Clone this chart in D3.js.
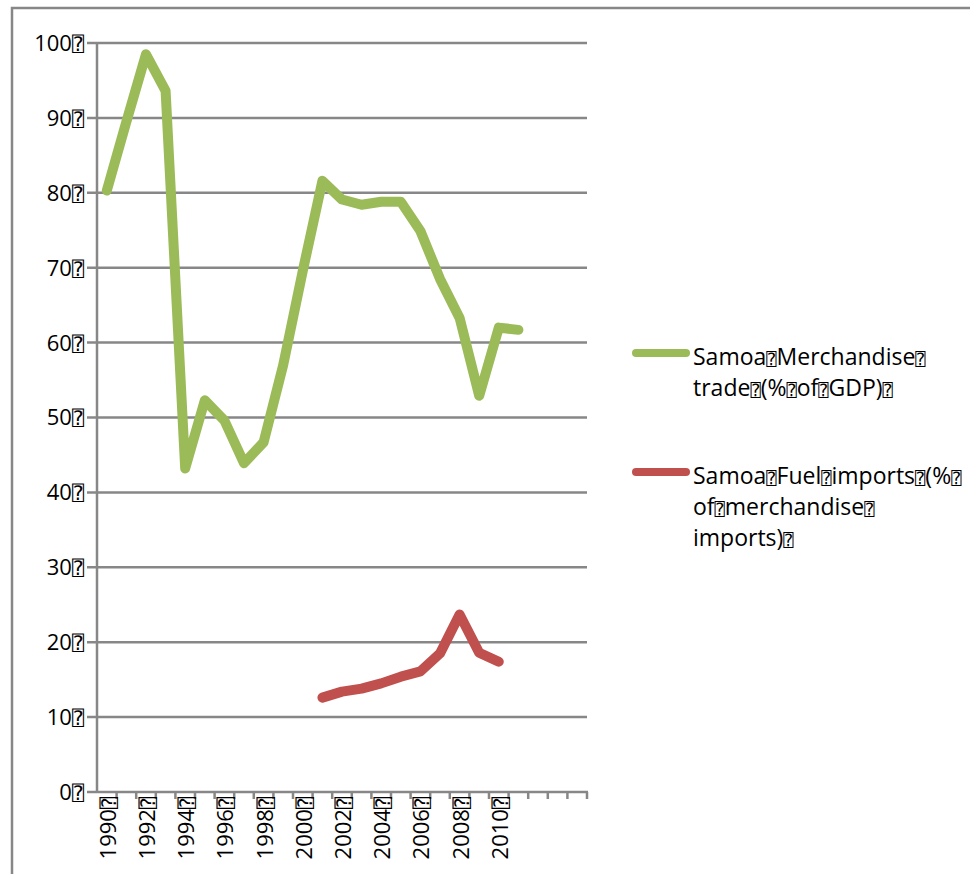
<!DOCTYPE html>
<html>
<head>
<meta charset="utf-8">
<script src="https://cdn.jsdelivr.net/npm/d3@7"></script>
<style>
  body { margin: 0; background: #fff; }
  text { font-family: "Open Sans", "Noto Sans", sans-serif; fill: #000; }
  .box { font-family: "DejaVu Sans", "DejaVu Sans Mono", sans-serif; fill: #000; }
</style>
</head>
<body>
<div id="chart"></div>
<script>
// Categories (years) on the x axis
var years = ["1990", "1991", "1992", "1993", "1994", "1995", "1996", "1997", "1998", "1999",
  "2000", "2001", "2002", "2003", "2004", "2005", "2006", "2007", "2008", "2009",
  "2010", "2011", "2012", "2013", "2014"];

// Years that get a label under the axis
var yearLabels = ["1990", "1992", "1994", "1996", "1998", "2000", "2002", "2004", "2006", "2008", "2010"];

// Samoa Merchandise trade (% of GDP)
var merchandise = [80.3, 89.5, 98.5, 93.6, 43.2, 52.3, 49.6, 43.9, 46.7, 57.0,
  69.6, 81.6, 79.1, 78.4, 78.8, 78.8, 74.9, 68.5, 63.3, 52.9,
  62.0, 61.7, null, null, null];

// Samoa Fuel imports (% of merchandise imports)
var fuel = [null, null, null, null, null, null, null, null, null, null,
  null, 12.6, 13.4, 13.8, 14.5, 15.4, 16.1, 18.5, 23.7, 18.6,
  17.4, null, null, null, null];

var yTicks = [0, 10, 20, 30, 40, 50, 60, 70, 80, 90, 100];

var legendItems = [
  { lines: ["Samoa\u2370Merchandise\u2370", "trade\u2370(%\u2370of\u2370GDP)\u2370"], color: "#9BBB59" },
  { lines: ["Samoa\u2370Fuel\u2370imports\u2370(%\u2370", "of\u2370merchandise\u2370", "imports)\u2370"], color: "#C0504D" }
];

var svgWidth = 970;
var svgHeight = 874;
var gridColor = "#878787";

var svg = d3.select("#chart")
  .append("svg")
  .attr("width", svgWidth)
  .attr("height", svgHeight);

// outer frame (only top and left edges are visible)
svg.append("path")
  .attr("d", "M12,874 L12,8 L970,8")
  .attr("fill", "none")
  .attr("stroke", gridColor)
  .attr("stroke-width", 2.5);

// scales
var xScale = d3.scaleBand()
  .domain(years)
  .range([97, 587]);

var yScale = d3.scaleLinear()
  .domain([0, 100])
  .range([792, 43]);

var xc = function(d) { return xScale(d) + xScale.bandwidth() / 2; };

// horizontal gridlines (these also make the short ticks on the left)
svg.append("g")
  .selectAll("line")
  .data(yTicks.slice(1))
  .enter()
  .append("line")
  .attr("x1", 87)
  .attr("x2", 587)
  .attr("y1", d => yScale(d))
  .attr("y2", d => yScale(d))
  .attr("stroke", gridColor)
  .attr("stroke-width", 2.5);

// y axis line
svg.append("line")
  .attr("x1", 97).attr("x2", 97)
  .attr("y1", yScale(100)).attr("y2", yScale(0))
  .attr("stroke", gridColor)
  .attr("stroke-width", 2.5);

// x axis line with ticks between categories
svg.append("line")
  .attr("x1", 87).attr("x2", 588)
  .attr("y1", yScale(0)).attr("y2", yScale(0))
  .attr("stroke", gridColor)
  .attr("stroke-width", 2.5);

svg.append("g")
  .selectAll("line")
  .data(years)
  .enter()
  .append("line")
  .attr("x1", d => xScale(d) + xScale.bandwidth())
  .attr("x2", d => xScale(d) + xScale.bandwidth())
  .attr("y1", yScale(0))
  .attr("y2", yScale(0) + 7)
  .attr("stroke", gridColor)
  .attr("stroke-width", 2.5);

// y tick labels
var yLab = svg.append("g")
  .selectAll("text")
  .data(yTicks)
  .enter()
  .append("text")
  .attr("x", 84)
  .attr("y", d => yScale(d))
  .attr("dy", "0.36em")
  .attr("text-anchor", "end")
  .style("font-size", "22px");
yLab.append("tspan").text(d => d);
yLab.append("tspan").attr("class", "box").style("font-size", "20px").text("\u2370");

// x tick labels, rotated
var xLab = svg.append("g")
  .selectAll("text")
  .data(yearLabels)
  .enter()
  .append("text")
  .attr("transform", d => `translate(${xc(d) + 1}, 797) rotate(-90)`)
  .attr("dy", "0.36em")
  .attr("text-anchor", "end")
  .style("font-size", "22px");
xLab.append("tspan").text(d => d);
xLab.append("tspan").attr("class", "box").style("font-size", "20px").text("\u2370");

// lines
var drawLine = d3.line()
  .defined(d => d.v !== null)
  .x(d => xc(d.year))
  .y(d => yScale(d.v));

[{ values: merchandise, color: "#9BBB59" }, { values: fuel, color: "#C0504D" }].forEach(function(s) {
  var rows = years.map(function(y, i) { return { year: y, v: s.values[i] }; });
  svg.append("path")
    .datum(rows)
    .attr("d", drawLine)
    .attr("fill", "none")
    .attr("stroke", s.color)
    .attr("stroke-width", 10)
    .attr("stroke-linejoin", "round")
    .attr("stroke-linecap", "round");
});

// legend
var legendTop = [353, 472];
legendItems.forEach(function(item, i) {
  var g = svg.append("g").attr("transform", `translate(0, ${legendTop[i]})`);
  g.append("line")
    .attr("x1", 636).attr("x2", 686)
    .attr("y1", 0).attr("y2", 0)
    .attr("stroke", item.color)
    .attr("stroke-width", 8)
    .attr("stroke-linecap", "round");
  item.lines.forEach(function(line, j) {
    var t = g.append("text")
      .attr("x", 693)
      .attr("y", 12 + j * 31)
      .style("font-size", "23px");
    line.split("\u2370").forEach(function(part, k, arr) {
      t.append("tspan").text(part);
      if (k < arr.length - 1) {
        t.append("tspan").attr("class", "box").style("font-size", "17px").text("\u2370");
      }
    });
  });
});
</script>
</body>
</html>
